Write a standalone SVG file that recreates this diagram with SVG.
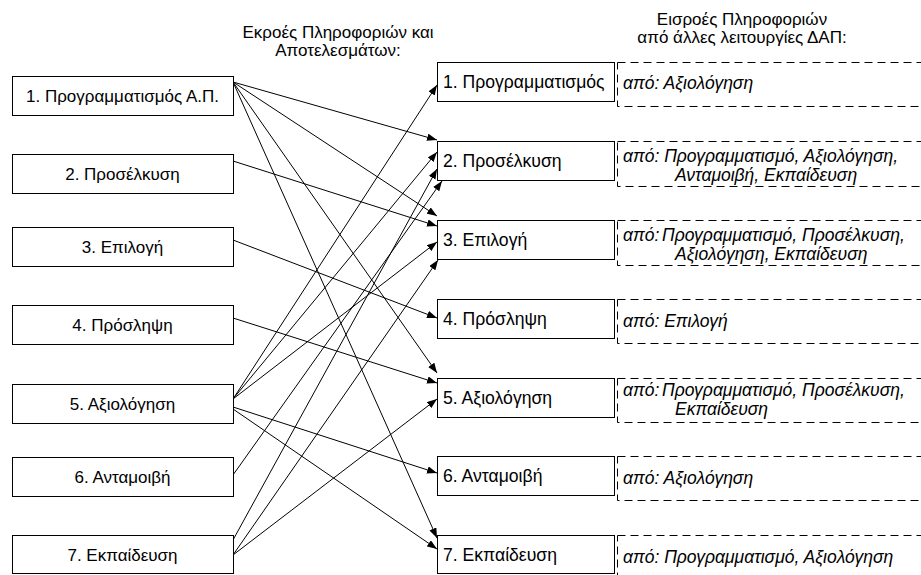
<svg xmlns="http://www.w3.org/2000/svg" width="921" height="575" viewBox="0 0 921 575">
<style>
.box{fill:#fff;stroke:#000;stroke-width:1}
.dbox{fill:none;stroke:#000;stroke-width:1;stroke-dasharray:8 5}
.t{font-family:"Liberation Sans",Arial,sans-serif;font-size:17px;fill:#000}
.r{font-size:17.6px}
.c{text-anchor:middle}
.i{font-style:italic;font-size:17.5px}
.ln{stroke:#000;stroke-width:1;fill:none;marker-end:url(#ah)}
</style>
<defs>
<marker id="ah" markerUnits="userSpaceOnUse" markerWidth="11" markerHeight="8" refX="10" refY="3.75" orient="auto">
<path d="M0,0 L10,3.75 L0,7.5 Z" fill="#000"/>
</marker>
</defs>
<rect width="921" height="575" fill="#fff"/>
<g id="titles">
<text class="t c" x="338" y="38">Εκροές Πληροφοριών και</text>
<text class="t c" x="338" y="56">Αποτελεσμάτων:</text>
<text class="t c" x="742" y="25">Εισροές Πληροφοριών</text>
<text class="t c" x="742" y="43">από άλλες λειτουργίες ΔΑΠ:</text>
</g>
<g id="connectors">
<line class="ln" x1="233" y1="82" x2="437" y2="140"/>
<line class="ln" x1="233" y1="82" x2="437" y2="216"/>
<line class="ln" x1="233" y1="82" x2="437" y2="373"/>
<line class="ln" x1="233" y1="82" x2="437" y2="538"/>
<line class="ln" x1="233" y1="161" x2="437" y2="226"/>
<line class="ln" x1="233" y1="240" x2="437" y2="318"/>
<line class="ln" x1="233" y1="318" x2="437" y2="383"/>
<line class="ln" x1="233" y1="399" x2="437" y2="85"/>
<line class="ln" x1="233" y1="399" x2="437" y2="152"/>
<line class="ln" x1="233" y1="399" x2="437" y2="242"/>
<line class="ln" x1="233" y1="407" x2="437" y2="473"/>
<line class="ln" x1="233" y1="409" x2="437" y2="549"/>
<line class="ln" x1="233" y1="475" x2="442" y2="181"/>
<line class="ln" x1="233" y1="540" x2="437" y2="169"/>
<line class="ln" x1="233" y1="555" x2="438" y2="260"/>
<line class="ln" x1="233" y1="555" x2="437" y2="399"/>
</g>
<g id="L1"><rect class="box" x="12.5" y="76.5" width="221" height="39"/><text class="t c" x="122.5" y="102">1. Προγραμματισμός Α.Π.</text></g>
<g id="L2"><rect class="box" x="12.5" y="154.5" width="221" height="39"/><text class="t c" x="122.5" y="180">2. Προσέλκυση</text></g>
<g id="L3"><rect class="box" x="12.5" y="227.5" width="221" height="39"/><text class="t c" x="122.5" y="253">3. Επιλογή</text></g>
<g id="L4"><rect class="box" x="12.5" y="305.5" width="221" height="39"/><text class="t c" x="122.5" y="331">4. Πρόσληψη</text></g>
<g id="L5"><rect class="box" x="12.5" y="384.5" width="221" height="39"/><text class="t c" x="122.5" y="410">5. Αξιολόγηση</text></g>
<g id="L6"><rect class="box" x="12.5" y="457.5" width="221" height="39"/><text class="t c" x="122.5" y="483">6. Ανταμοιβή</text></g>
<g id="L7"><rect class="box" x="12.5" y="535.5" width="221" height="38"/><text class="t c" x="122.5" y="561">7. Εκπαίδευση</text></g>
<g id="R1"><rect class="box" x="437.5" y="62.5" width="177" height="39"/><text class="t r" x="443" y="88">1. Προγραμματισμός</text></g>
<g id="R2"><rect class="box" x="437.5" y="141.5" width="177" height="39"/><text class="t r" x="443" y="167">2. Προσέλκυση</text></g>
<g id="R3"><rect class="box" x="437.5" y="220.5" width="177" height="39"/><text class="t r" x="443" y="246">3. Επιλογή</text></g>
<g id="R4"><rect class="box" x="437.5" y="299.5" width="177" height="39"/><text class="t r" x="443" y="325">4. Πρόσληψη</text></g>
<g id="R5"><rect class="box" x="437.5" y="378.5" width="177" height="39"/><text class="t r" x="443" y="404">5. Αξιολόγηση</text></g>
<g id="R6"><rect class="box" x="437.5" y="456.5" width="177" height="39"/><text class="t r" x="443" y="482">6. Ανταμοιβή</text></g>
<g id="R7"><rect class="box" x="437.5" y="535.5" width="177" height="38"/><text class="t r" x="443" y="561">7. Εκπαίδευση</text></g>
<g id="D1"><rect class="dbox" x="617.5" y="62.5" width="330" height="44"/><text class="t i" x="623" y="89">από: Αξιολόγηση</text></g>
<g id="D2"><rect class="dbox" x="617.5" y="141.5" width="330" height="45"/><text class="t i" x="623" y="162">από: Προγραμματισμό, Αξιολόγηση,</text><text class="t i" x="675" y="181">Ανταμοιβή, Εκπαίδευση</text></g>
<g id="D3"><rect class="dbox" x="617.5" y="220.5" width="330" height="45"/><text class="t i" x="623" y="241">από:<tspan x="662">Προγραμματισμό, Προσέλκυση,</tspan></text><text class="t i" x="675" y="260">Αξιολόγηση, Εκπαίδευση</text></g>
<g id="D4"><rect class="dbox" x="617.5" y="299.5" width="330" height="44"/><text class="t i" x="623" y="327">από: Επιλογή</text></g>
<g id="D5"><rect class="dbox" x="617.5" y="378.5" width="330" height="44"/><text class="t i" x="623" y="396">από:<tspan x="662">Προγραμματισμό, Προσέλκυση,</tspan></text><text class="t i" x="675" y="415">Εκπαίδευση</text></g>
<g id="D6"><rect class="dbox" x="617.5" y="456.5" width="330" height="44"/><text class="t i" x="623" y="484">από: Αξιολόγηση</text></g>
<g id="D7"><rect class="dbox" x="617.5" y="535.5" width="330" height="50"/><text class="t i" x="623" y="563">από: Προγραμματισμό, Αξιολόγηση</text></g>
</svg>
